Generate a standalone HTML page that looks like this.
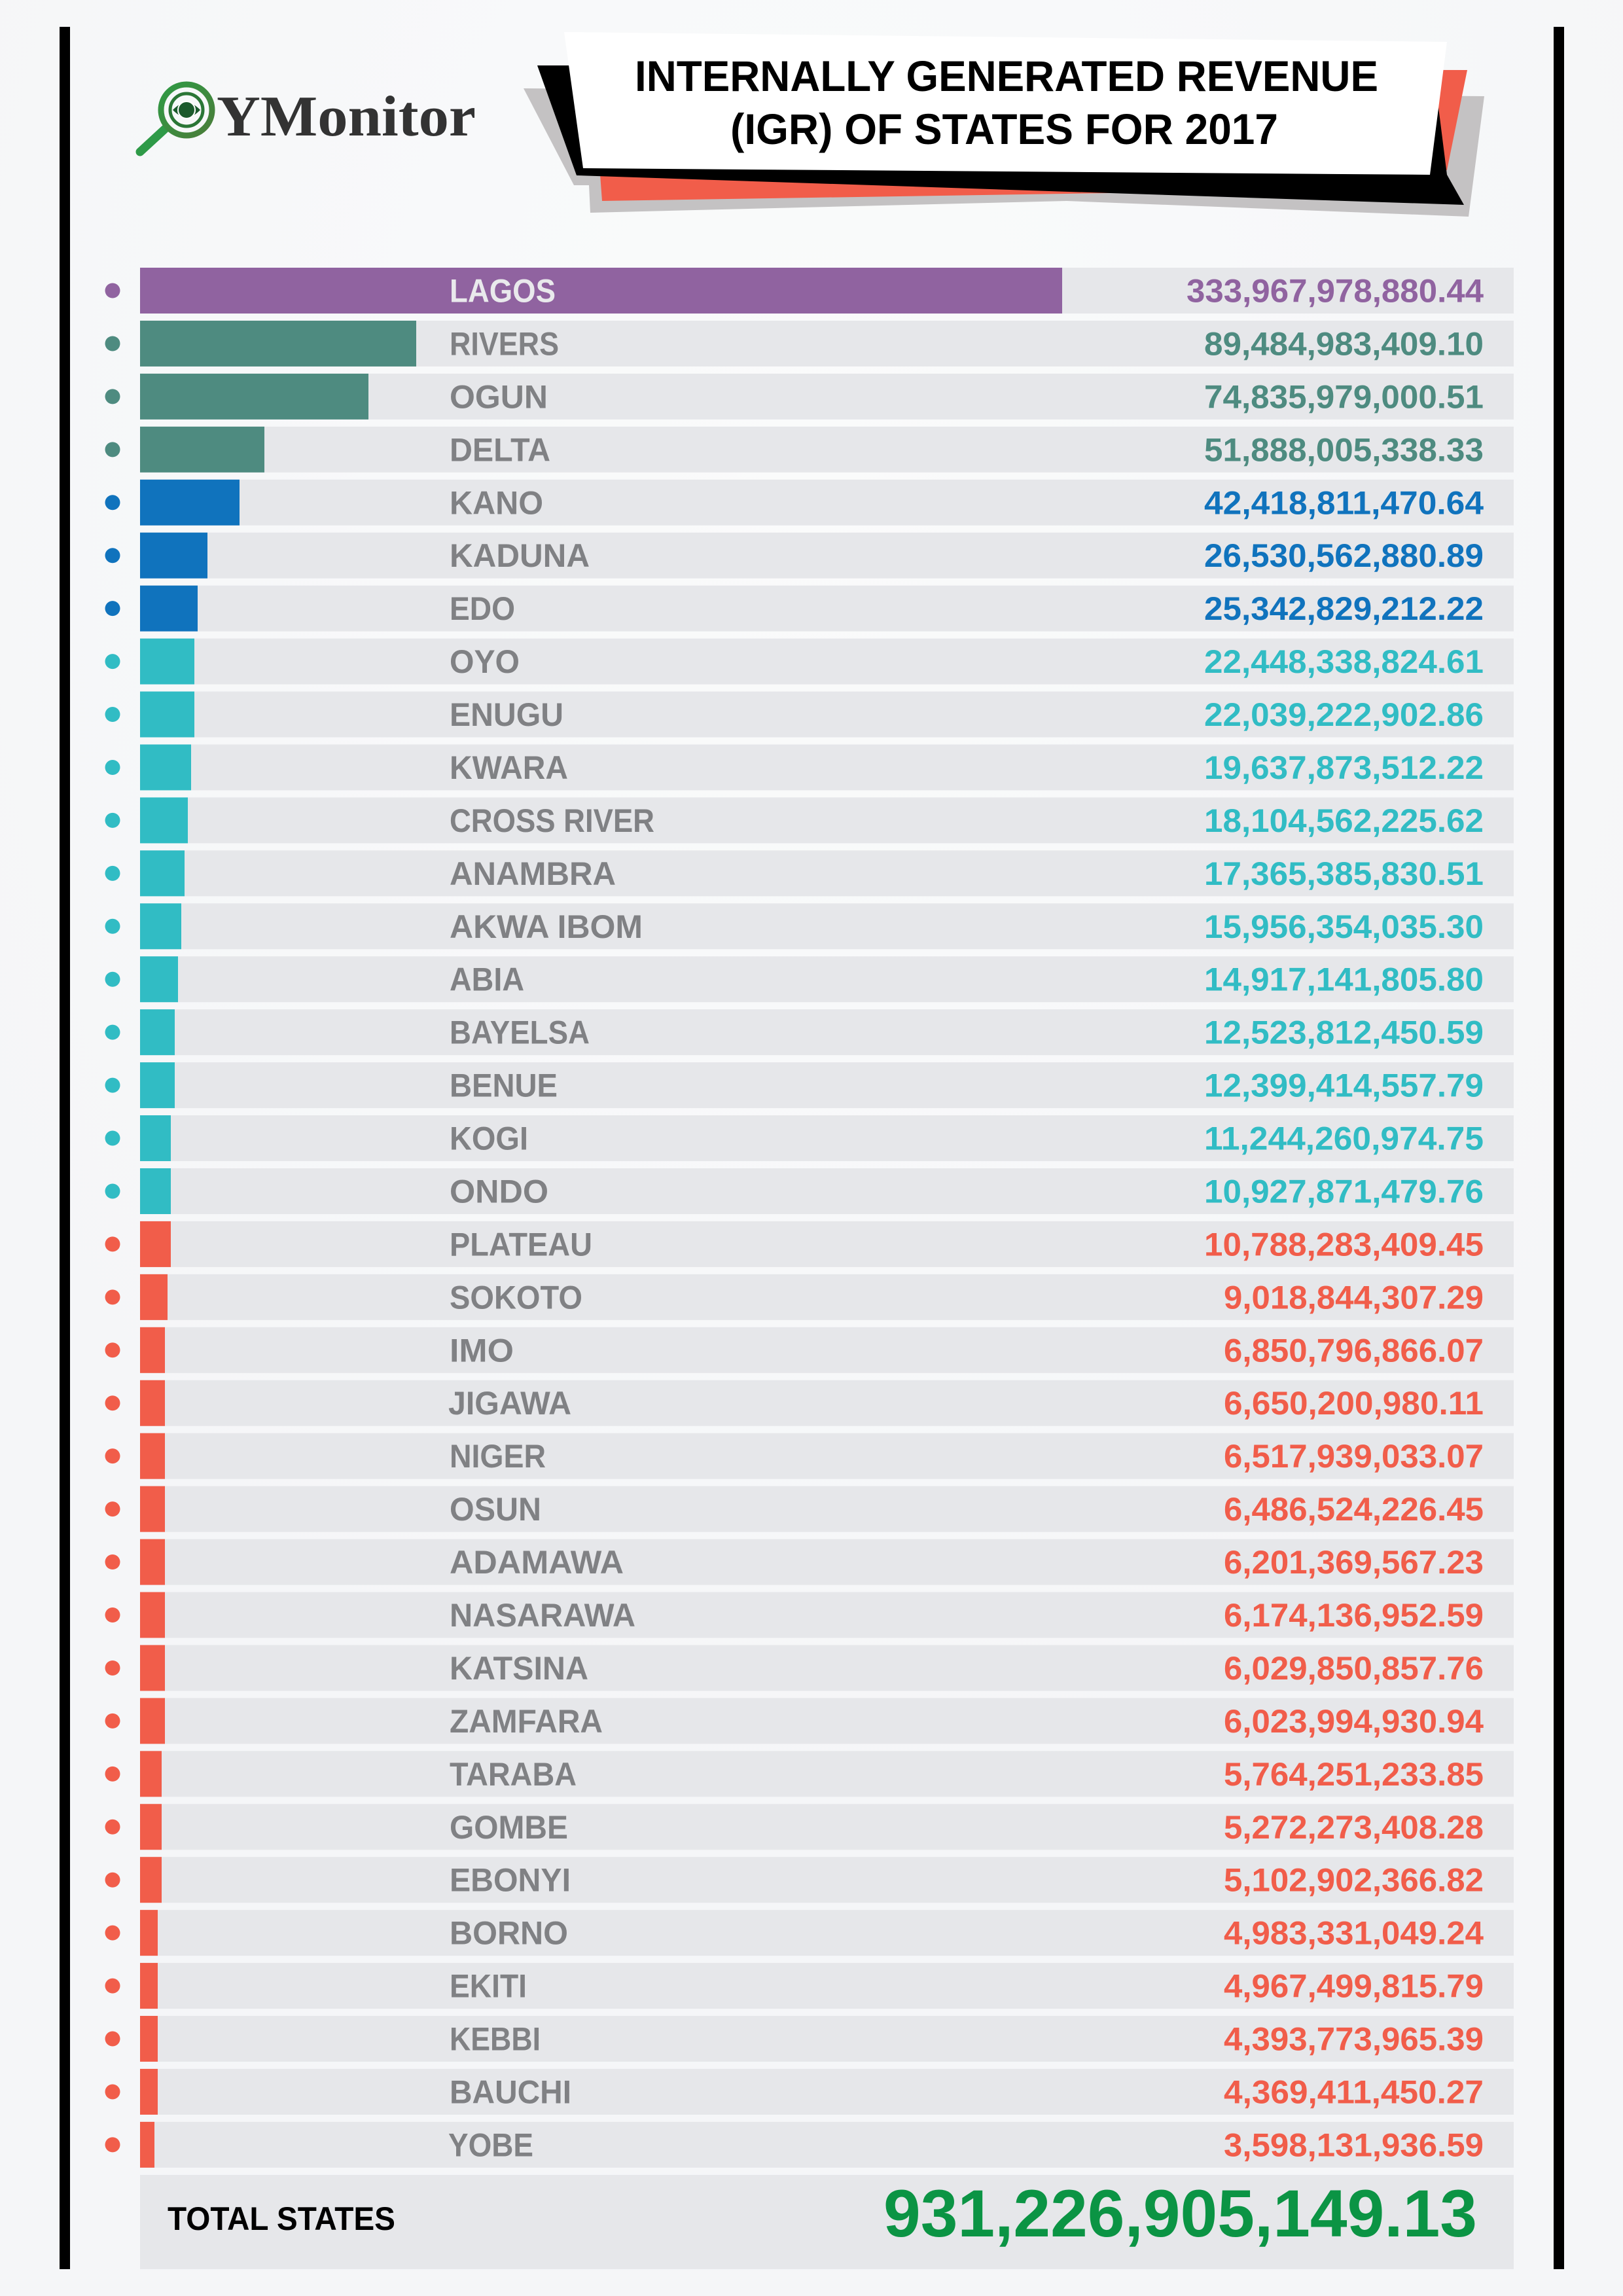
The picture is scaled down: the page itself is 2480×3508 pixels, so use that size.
<!DOCTYPE html>
<html>
<head>
<meta charset="utf-8">
<style>
html,body{margin:0;padding:0;background:#f5f6f8;}
svg{display:block;}
</style>
</head>
<body>
<svg xmlns="http://www.w3.org/2000/svg" width="2480" height="3508" viewBox="0 0 2480 3508">
<defs>
<radialGradient id="bg" cx="0.5" cy="0.2" r="0.6">
<stop offset="0" stop-color="#fafbfb"/>
<stop offset="1" stop-color="#f5f6f8"/>
</radialGradient>
<linearGradient id="ring" x1="0" y1="0" x2="1" y2="1">
<stop offset="0" stop-color="#2f9a45"/>
<stop offset="1" stop-color="#4a7d3a"/>
</linearGradient>
</defs>
<rect x="0" y="0" width="2480" height="3508" fill="#f5f6f8"/>
<rect x="0" y="0" width="2480" height="3508" fill="url(#bg)"/>

<!-- frame lines -->
<rect x="91" y="41" width="16" height="3426" fill="#000"/>
<rect x="2374" y="41" width="16" height="3426" fill="#000"/>

<!-- header shapes -->
<polygon points="800,135 2268,147 2244,331 1630,307 902,325 900,283 877,283" fill="#c4c2c3"/>
<polygon points="905,105 2242,107 2211,260 1693,295 920,307" fill="#f15d4a"/>
<polygon points="821,100 2190,100 2211,267 2237,313 881,268" fill="#000"/>
<polygon points="862,49 2211,64 2185,267 891,257" fill="#fff"/>
<g font-family="'Liberation Sans', Arial, sans-serif" font-weight="bold" fill="#000" font-size="66">
<text x="970" y="139" textLength="1136" lengthAdjust="spacingAndGlyphs">INTERNALLY GENERATED REVENUE</text>
<text x="1116" y="220" textLength="837" lengthAdjust="spacingAndGlyphs">(IGR) OF STATES FOR 2017</text>
</g>

<!-- logo -->
<g>
<line x1="252" y1="197" x2="214" y2="232" stroke="#2e9a48" stroke-width="13" stroke-linecap="round"/>
<circle cx="285" cy="168" r="39" fill="none" stroke="url(#ring)" stroke-width="9"/>
<circle cx="285" cy="168" r="25" fill="none" stroke="#2a7636" stroke-width="5"/>
<path d="M264,168 Q285,146 306,168 Q285,190 264,168 Z" fill="#1b5a2c"/>
<circle cx="285" cy="168" r="13" fill="#1b5a2c" stroke="#ffffff" stroke-width="2"/>
<text x="331" y="207" font-family="'Liberation Serif', 'Times New Roman', serif" font-weight="bold" font-size="88" fill="#333333" textLength="396" lengthAdjust="spacingAndGlyphs">YMonitor</text>
</g>

<g id="rows" font-family="'Liberation Sans', Arial, sans-serif" font-weight="bold" font-size="50">
<!-- row template: top = 409 + 80.94*i -->
<!-- 0 LAGOS -->
<rect x="214" y="409" width="2099" height="70" fill="#e6e7ea"/>
<rect x="214" y="409" width="1409" height="70" fill="#9063a0"/>
<circle cx="172" cy="444" r="11.5" fill="#9063a0"/>
<text x="687" y="461.5" fill="#e9e9ec" textLength="162" lengthAdjust="spacingAndGlyphs">LAGOS</text>
<text x="2267" y="461.5" fill="#9063a0" text-anchor="end" textLength="454" lengthAdjust="spacingAndGlyphs">333,967,978,880.44</text>

<!-- 1 RIVERS -->
<rect x="214" y="489.94" width="2099" height="70" fill="#e6e7ea"/>
<rect x="214" y="489.94" width="422" height="70" fill="#4e8b80"/>
<circle cx="172" cy="524.94" r="11.5" fill="#4e8b80"/>
<text x="687" y="542.44" fill="#808184" textLength="167" lengthAdjust="spacingAndGlyphs">RIVERS</text>
<text x="2267" y="542.44" fill="#4e8b80" text-anchor="end" textLength="427" lengthAdjust="spacingAndGlyphs">89,484,983,409.10</text>

<!-- 2 OGUN -->
<rect x="214" y="570.88" width="2099" height="70" fill="#e6e7ea"/>
<rect x="214" y="570.88" width="349" height="70" fill="#4e8b80"/>
<circle cx="172" cy="605.88" r="11.5" fill="#4e8b80"/>
<text x="687" y="623.38" fill="#808184" textLength="150" lengthAdjust="spacingAndGlyphs">OGUN</text>
<text x="2267" y="623.38" fill="#4e8b80" text-anchor="end" textLength="427" lengthAdjust="spacingAndGlyphs">74,835,979,000.51</text>

<!-- 3 DELTA -->
<rect x="214" y="651.82" width="2099" height="70" fill="#e6e7ea"/>
<rect x="214" y="651.82" width="190" height="70" fill="#4e8b80"/>
<circle cx="172" cy="686.82" r="11.5" fill="#4e8b80"/>
<text x="687" y="704.32" fill="#808184" textLength="154" lengthAdjust="spacingAndGlyphs">DELTA</text>
<text x="2267" y="704.32" fill="#4e8b80" text-anchor="end" textLength="427" lengthAdjust="spacingAndGlyphs">51,888,005,338.33</text>

<!-- 4 KANO -->
<rect x="214" y="732.76" width="2099" height="70" fill="#e6e7ea"/>
<rect x="214" y="732.76" width="152" height="70" fill="#1073bd"/>
<circle cx="172" cy="767.76" r="11.5" fill="#1073bd"/>
<text x="687" y="785.26" fill="#808184" textLength="143" lengthAdjust="spacingAndGlyphs">KANO</text>
<text x="2267" y="785.26" fill="#1073bd" text-anchor="end" textLength="427" lengthAdjust="spacingAndGlyphs">42,418,811,470.64</text>

<!-- 5 KADUNA -->
<rect x="214" y="813.7" width="2099" height="70" fill="#e6e7ea"/>
<rect x="214" y="813.7" width="103" height="70" fill="#1073bd"/>
<circle cx="172" cy="848.7" r="11.5" fill="#1073bd"/>
<text x="687" y="866.2" fill="#808184" textLength="214" lengthAdjust="spacingAndGlyphs">KADUNA</text>
<text x="2267" y="866.2" fill="#1073bd" text-anchor="end" textLength="427" lengthAdjust="spacingAndGlyphs">26,530,562,880.89</text>

<!-- 6 EDO -->
<rect x="214" y="894.64" width="2099" height="70" fill="#e6e7ea"/>
<rect x="214" y="894.64" width="88" height="70" fill="#1073bd"/>
<circle cx="172" cy="929.64" r="11.5" fill="#1073bd"/>
<text x="687" y="947.14" fill="#808184" textLength="100" lengthAdjust="spacingAndGlyphs">EDO</text>
<text x="2267" y="947.14" fill="#1073bd" text-anchor="end" textLength="427" lengthAdjust="spacingAndGlyphs">25,342,829,212.22</text>

<!-- 7 OYO -->
<rect x="214" y="975.58" width="2099" height="70" fill="#e6e7ea"/>
<rect x="214" y="975.58" width="83" height="70" fill="#31bcc4"/>
<circle cx="172" cy="1010.58" r="11.5" fill="#31bcc4"/>
<text x="687" y="1028.08" fill="#808184" textLength="107" lengthAdjust="spacingAndGlyphs">OYO</text>
<text x="2267" y="1028.08" fill="#31bcc4" text-anchor="end" textLength="427" lengthAdjust="spacingAndGlyphs">22,448,338,824.61</text>

<!-- 8 ENUGU -->
<rect x="214" y="1056.52" width="2099" height="70" fill="#e6e7ea"/>
<rect x="214" y="1056.52" width="83" height="70" fill="#31bcc4"/>
<circle cx="172" cy="1091.52" r="11.5" fill="#31bcc4"/>
<text x="687" y="1109.02" fill="#808184" textLength="174" lengthAdjust="spacingAndGlyphs">ENUGU</text>
<text x="2267" y="1109.02" fill="#31bcc4" text-anchor="end" textLength="427" lengthAdjust="spacingAndGlyphs">22,039,222,902.86</text>

<!-- 9 KWARA -->
<rect x="214" y="1137.46" width="2099" height="70" fill="#e6e7ea"/>
<rect x="214" y="1137.46" width="78" height="70" fill="#31bcc4"/>
<circle cx="172" cy="1172.46" r="11.5" fill="#31bcc4"/>
<text x="687" y="1189.96" fill="#808184" textLength="181" lengthAdjust="spacingAndGlyphs">KWARA</text>
<text x="2267" y="1189.96" fill="#31bcc4" text-anchor="end" textLength="427" lengthAdjust="spacingAndGlyphs">19,637,873,512.22</text>

<!-- 10 CROSS RIVER -->
<rect x="214" y="1218.4" width="2099" height="70" fill="#e6e7ea"/>
<rect x="214" y="1218.4" width="73" height="70" fill="#31bcc4"/>
<circle cx="172" cy="1253.4" r="11.5" fill="#31bcc4"/>
<text x="687" y="1270.9" fill="#808184" textLength="313" lengthAdjust="spacingAndGlyphs">CROSS RIVER</text>
<text x="2267" y="1270.9" fill="#31bcc4" text-anchor="end" textLength="427" lengthAdjust="spacingAndGlyphs">18,104,562,225.62</text>

<!-- 11 ANAMBRA -->
<rect x="214" y="1299.34" width="2099" height="70" fill="#e6e7ea"/>
<rect x="214" y="1299.34" width="68" height="70" fill="#31bcc4"/>
<circle cx="172" cy="1334.34" r="11.5" fill="#31bcc4"/>
<text x="687" y="1351.84" fill="#808184" textLength="254" lengthAdjust="spacingAndGlyphs">ANAMBRA</text>
<text x="2267" y="1351.84" fill="#31bcc4" text-anchor="end" textLength="427" lengthAdjust="spacingAndGlyphs">17,365,385,830.51</text>

<!-- 12 AKWA IBOM -->
<rect x="214" y="1380.28" width="2099" height="70" fill="#e6e7ea"/>
<rect x="214" y="1380.28" width="63" height="70" fill="#31bcc4"/>
<circle cx="172" cy="1415.28" r="11.5" fill="#31bcc4"/>
<text x="687" y="1432.78" fill="#808184" textLength="295" lengthAdjust="spacingAndGlyphs">AKWA IBOM</text>
<text x="2267" y="1432.78" fill="#31bcc4" text-anchor="end" textLength="427" lengthAdjust="spacingAndGlyphs">15,956,354,035.30</text>

<!-- 13 ABIA -->
<rect x="214" y="1461.22" width="2099" height="70" fill="#e6e7ea"/>
<rect x="214" y="1461.22" width="58" height="70" fill="#31bcc4"/>
<circle cx="172" cy="1496.22" r="11.5" fill="#31bcc4"/>
<text x="687" y="1513.72" fill="#808184" textLength="114" lengthAdjust="spacingAndGlyphs">ABIA</text>
<text x="2267" y="1513.72" fill="#31bcc4" text-anchor="end" textLength="427" lengthAdjust="spacingAndGlyphs">14,917,141,805.80</text>

<!-- 14 BAYELSA -->
<rect x="214" y="1542.16" width="2099" height="70" fill="#e6e7ea"/>
<rect x="214" y="1542.16" width="53" height="70" fill="#31bcc4"/>
<circle cx="172" cy="1577.16" r="11.5" fill="#31bcc4"/>
<text x="687" y="1594.66" fill="#808184" textLength="214" lengthAdjust="spacingAndGlyphs">BAYELSA</text>
<text x="2267" y="1594.66" fill="#31bcc4" text-anchor="end" textLength="427" lengthAdjust="spacingAndGlyphs">12,523,812,450.59</text>

<!-- 15 BENUE -->
<rect x="214" y="1623.1" width="2099" height="70" fill="#e6e7ea"/>
<rect x="214" y="1623.1" width="53" height="70" fill="#31bcc4"/>
<circle cx="172" cy="1658.1" r="11.5" fill="#31bcc4"/>
<text x="687" y="1675.6" fill="#808184" textLength="165" lengthAdjust="spacingAndGlyphs">BENUE</text>
<text x="2267" y="1675.6" fill="#31bcc4" text-anchor="end" textLength="427" lengthAdjust="spacingAndGlyphs">12,399,414,557.79</text>

<!-- 16 KOGI -->
<rect x="214" y="1704.04" width="2099" height="70" fill="#e6e7ea"/>
<rect x="214" y="1704.04" width="47" height="70" fill="#31bcc4"/>
<circle cx="172" cy="1739.04" r="11.5" fill="#31bcc4"/>
<text x="687" y="1756.54" fill="#808184" textLength="120" lengthAdjust="spacingAndGlyphs">KOGI</text>
<text x="2267" y="1756.54" fill="#31bcc4" text-anchor="end" textLength="427" lengthAdjust="spacingAndGlyphs">11,244,260,974.75</text>

<!-- 17 ONDO -->
<rect x="214" y="1784.98" width="2099" height="70" fill="#e6e7ea"/>
<rect x="214" y="1784.98" width="47" height="70" fill="#31bcc4"/>
<circle cx="172" cy="1819.98" r="11.5" fill="#31bcc4"/>
<text x="687" y="1837.48" fill="#808184" textLength="151" lengthAdjust="spacingAndGlyphs">ONDO</text>
<text x="2267" y="1837.48" fill="#31bcc4" text-anchor="end" textLength="427" lengthAdjust="spacingAndGlyphs">10,927,871,479.76</text>

<!-- 18 PLATEAU -->
<rect x="214" y="1865.92" width="2099" height="70" fill="#e6e7ea"/>
<rect x="214" y="1865.92" width="47" height="70" fill="#f15d4a"/>
<circle cx="172" cy="1900.92" r="11.5" fill="#f15d4a"/>
<text x="687" y="1918.42" fill="#808184" textLength="218" lengthAdjust="spacingAndGlyphs">PLATEAU</text>
<text x="2267" y="1918.42" fill="#f15d4a" text-anchor="end" textLength="427" lengthAdjust="spacingAndGlyphs">10,788,283,409.45</text>

<!-- 19 SOKOTO -->
<rect x="214" y="1946.86" width="2099" height="70" fill="#e6e7ea"/>
<rect x="214" y="1946.86" width="42" height="70" fill="#f15d4a"/>
<circle cx="172" cy="1981.86" r="11.5" fill="#f15d4a"/>
<text x="687" y="1999.36" fill="#808184" textLength="203" lengthAdjust="spacingAndGlyphs">SOKOTO</text>
<text x="2267" y="1999.36" fill="#f15d4a" text-anchor="end" textLength="397" lengthAdjust="spacingAndGlyphs">9,018,844,307.29</text>

<!-- 20 IMO -->
<rect x="214" y="2027.8" width="2099" height="70" fill="#e6e7ea"/>
<rect x="214" y="2027.8" width="38" height="70" fill="#f15d4a"/>
<circle cx="172" cy="2062.8" r="11.5" fill="#f15d4a"/>
<text x="687" y="2080.3" fill="#808184" textLength="98" lengthAdjust="spacingAndGlyphs">IMO</text>
<text x="2267" y="2080.3" fill="#f15d4a" text-anchor="end" textLength="397" lengthAdjust="spacingAndGlyphs">6,850,796,866.07</text>

<!-- 21 JIGAWA -->
<rect x="214" y="2108.74" width="2099" height="70" fill="#e6e7ea"/>
<rect x="214" y="2108.74" width="38" height="70" fill="#f15d4a"/>
<circle cx="172" cy="2143.74" r="11.5" fill="#f15d4a"/>
<text x="685" y="2161.24" fill="#808184" textLength="188" lengthAdjust="spacingAndGlyphs">JIGAWA</text>
<text x="2267" y="2161.24" fill="#f15d4a" text-anchor="end" textLength="397" lengthAdjust="spacingAndGlyphs">6,650,200,980.11</text>

<!-- 22 NIGER -->
<rect x="214" y="2189.68" width="2099" height="70" fill="#e6e7ea"/>
<rect x="214" y="2189.68" width="38" height="70" fill="#f15d4a"/>
<circle cx="172" cy="2224.68" r="11.5" fill="#f15d4a"/>
<text x="687" y="2242.18" fill="#808184" textLength="147" lengthAdjust="spacingAndGlyphs">NIGER</text>
<text x="2267" y="2242.18" fill="#f15d4a" text-anchor="end" textLength="397" lengthAdjust="spacingAndGlyphs">6,517,939,033.07</text>

<!-- 23 OSUN -->
<rect x="214" y="2270.62" width="2099" height="70" fill="#e6e7ea"/>
<rect x="214" y="2270.62" width="38" height="70" fill="#f15d4a"/>
<circle cx="172" cy="2305.62" r="11.5" fill="#f15d4a"/>
<text x="687" y="2323.12" fill="#808184" textLength="140" lengthAdjust="spacingAndGlyphs">OSUN</text>
<text x="2267" y="2323.12" fill="#f15d4a" text-anchor="end" textLength="397" lengthAdjust="spacingAndGlyphs">6,486,524,226.45</text>

<!-- 24 ADAMAWA -->
<rect x="214" y="2351.56" width="2099" height="70" fill="#e6e7ea"/>
<rect x="214" y="2351.56" width="38" height="70" fill="#f15d4a"/>
<circle cx="172" cy="2386.56" r="11.5" fill="#f15d4a"/>
<text x="687" y="2404.06" fill="#808184" textLength="266" lengthAdjust="spacingAndGlyphs">ADAMAWA</text>
<text x="2267" y="2404.06" fill="#f15d4a" text-anchor="end" textLength="397" lengthAdjust="spacingAndGlyphs">6,201,369,567.23</text>

<!-- 25 NASARAWA -->
<rect x="214" y="2432.5" width="2099" height="70" fill="#e6e7ea"/>
<rect x="214" y="2432.5" width="38" height="70" fill="#f15d4a"/>
<circle cx="172" cy="2467.5" r="11.5" fill="#f15d4a"/>
<text x="687" y="2485" fill="#808184" textLength="284" lengthAdjust="spacingAndGlyphs">NASARAWA</text>
<text x="2267" y="2485" fill="#f15d4a" text-anchor="end" textLength="397" lengthAdjust="spacingAndGlyphs">6,174,136,952.59</text>

<!-- 26 KATSINA -->
<rect x="214" y="2513.44" width="2099" height="70" fill="#e6e7ea"/>
<rect x="214" y="2513.44" width="38" height="70" fill="#f15d4a"/>
<circle cx="172" cy="2548.44" r="11.5" fill="#f15d4a"/>
<text x="687" y="2565.94" fill="#808184" textLength="212" lengthAdjust="spacingAndGlyphs">KATSINA</text>
<text x="2267" y="2565.94" fill="#f15d4a" text-anchor="end" textLength="397" lengthAdjust="spacingAndGlyphs">6,029,850,857.76</text>

<!-- 27 ZAMFARA -->
<rect x="214" y="2594.38" width="2099" height="70" fill="#e6e7ea"/>
<rect x="214" y="2594.38" width="38" height="70" fill="#f15d4a"/>
<circle cx="172" cy="2629.38" r="11.5" fill="#f15d4a"/>
<text x="687" y="2646.88" fill="#808184" textLength="234" lengthAdjust="spacingAndGlyphs">ZAMFARA</text>
<text x="2267" y="2646.88" fill="#f15d4a" text-anchor="end" textLength="397" lengthAdjust="spacingAndGlyphs">6,023,994,930.94</text>

<!-- 28 TARABA -->
<rect x="214" y="2675.32" width="2099" height="70" fill="#e6e7ea"/>
<rect x="214" y="2675.32" width="33" height="70" fill="#f15d4a"/>
<circle cx="172" cy="2710.32" r="11.5" fill="#f15d4a"/>
<text x="687" y="2727.82" fill="#808184" textLength="194" lengthAdjust="spacingAndGlyphs">TARABA</text>
<text x="2267" y="2727.82" fill="#f15d4a" text-anchor="end" textLength="397" lengthAdjust="spacingAndGlyphs">5,764,251,233.85</text>

<!-- 29 GOMBE -->
<rect x="214" y="2756.26" width="2099" height="70" fill="#e6e7ea"/>
<rect x="214" y="2756.26" width="33" height="70" fill="#f15d4a"/>
<circle cx="172" cy="2791.26" r="11.5" fill="#f15d4a"/>
<text x="687" y="2808.76" fill="#808184" textLength="181" lengthAdjust="spacingAndGlyphs">GOMBE</text>
<text x="2267" y="2808.76" fill="#f15d4a" text-anchor="end" textLength="397" lengthAdjust="spacingAndGlyphs">5,272,273,408.28</text>

<!-- 30 EBONYI -->
<rect x="214" y="2837.2" width="2099" height="70" fill="#e6e7ea"/>
<rect x="214" y="2837.2" width="33" height="70" fill="#f15d4a"/>
<circle cx="172" cy="2872.2" r="11.5" fill="#f15d4a"/>
<text x="687" y="2889.7" fill="#808184" textLength="185" lengthAdjust="spacingAndGlyphs">EBONYI</text>
<text x="2267" y="2889.7" fill="#f15d4a" text-anchor="end" textLength="397" lengthAdjust="spacingAndGlyphs">5,102,902,366.82</text>

<!-- 31 BORNO -->
<rect x="214" y="2918.14" width="2099" height="70" fill="#e6e7ea"/>
<rect x="214" y="2918.14" width="27" height="70" fill="#f15d4a"/>
<circle cx="172" cy="2953.14" r="11.5" fill="#f15d4a"/>
<text x="687" y="2970.64" fill="#808184" textLength="181" lengthAdjust="spacingAndGlyphs">BORNO</text>
<text x="2267" y="2970.64" fill="#f15d4a" text-anchor="end" textLength="397" lengthAdjust="spacingAndGlyphs">4,983,331,049.24</text>

<!-- 32 EKITI -->
<rect x="214" y="2999.08" width="2099" height="70" fill="#e6e7ea"/>
<rect x="214" y="2999.08" width="27" height="70" fill="#f15d4a"/>
<circle cx="172" cy="3034.08" r="11.5" fill="#f15d4a"/>
<text x="687" y="3051.58" fill="#808184" textLength="118" lengthAdjust="spacingAndGlyphs">EKITI</text>
<text x="2267" y="3051.58" fill="#f15d4a" text-anchor="end" textLength="397" lengthAdjust="spacingAndGlyphs">4,967,499,815.79</text>

<!-- 33 KEBBI -->
<rect x="214" y="3080.02" width="2099" height="70" fill="#e6e7ea"/>
<rect x="214" y="3080.02" width="27" height="70" fill="#f15d4a"/>
<circle cx="172" cy="3115.02" r="11.5" fill="#f15d4a"/>
<text x="687" y="3132.52" fill="#808184" textLength="139" lengthAdjust="spacingAndGlyphs">KEBBI</text>
<text x="2267" y="3132.52" fill="#f15d4a" text-anchor="end" textLength="397" lengthAdjust="spacingAndGlyphs">4,393,773,965.39</text>

<!-- 34 BAUCHI -->
<rect x="214" y="3160.96" width="2099" height="70" fill="#e6e7ea"/>
<rect x="214" y="3160.96" width="27" height="70" fill="#f15d4a"/>
<circle cx="172" cy="3195.96" r="11.5" fill="#f15d4a"/>
<text x="687" y="3213.46" fill="#808184" textLength="186" lengthAdjust="spacingAndGlyphs">BAUCHI</text>
<text x="2267" y="3213.46" fill="#f15d4a" text-anchor="end" textLength="397" lengthAdjust="spacingAndGlyphs">4,369,411,450.27</text>

<!-- 35 YOBE -->
<rect x="214" y="3241.9" width="2099" height="70" fill="#e6e7ea"/>
<rect x="214" y="3241.9" width="22" height="70" fill="#f15d4a"/>
<circle cx="172" cy="3276.9" r="11.5" fill="#f15d4a"/>
<text x="685" y="3294.4" fill="#808184" textLength="130" lengthAdjust="spacingAndGlyphs">YOBE</text>
<text x="2267" y="3294.4" fill="#f15d4a" text-anchor="end" textLength="397" lengthAdjust="spacingAndGlyphs">3,598,131,936.59</text>
</g>

<!-- total -->
<rect x="214" y="3323" width="2099" height="144" fill="#e6e7ea"/>
<text x="256" y="3407" font-family="'Liberation Sans', Arial, sans-serif" font-weight="bold" font-size="50" fill="#000" textLength="348" lengthAdjust="spacingAndGlyphs">TOTAL STATES</text>
<text x="1350" y="3417" font-family="'Liberation Sans', Arial, sans-serif" font-weight="bold" font-size="102" fill="#0b9444" textLength="907" lengthAdjust="spacingAndGlyphs">931,226,905,149.13</text>
</svg>
</body>
</html>
